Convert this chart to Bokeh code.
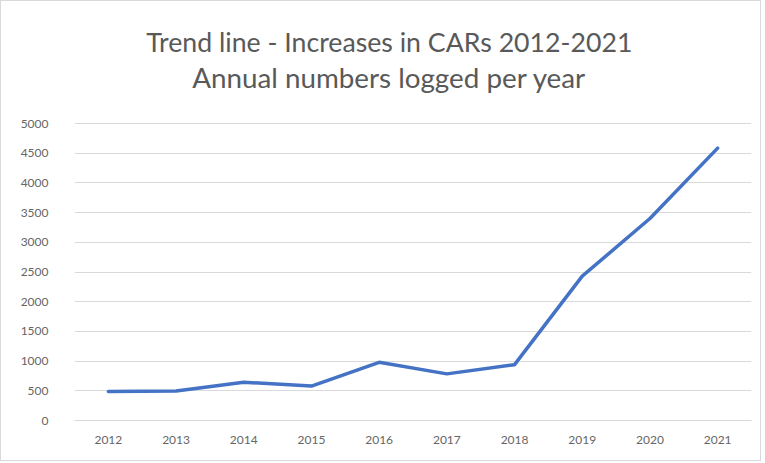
from bokeh.plotting import figure
from bokeh.models import Range1d, Label, FixedTicker, NumeralTickFormatter
from bokeh.embed import file_html
from bokeh.resources import INLINE

years = ["2012", "2013", "2014", "2015", "2016", "2017", "2018", "2019", "2020", "2021"]
cars_logged = [490, 495, 645, 580, 980, 785, 940, 2430, 3400, 4585]
y_ticks = [0, 500, 1000, 1500, 2000, 2500, 3000, 3500, 4000, 4500, 5000]
title_line1 = "Trend line - Increases in CARs 2012-2021"
title_line2 = "Annual numbers logged per year"

FONT = "Lato"
GREY = "#595959"
GRID = "#d9d9d9"

# layout (pixels)
W, H = 761, 461
LEFT, RIGHT_PAD, TOP_PAD, BOTTOM_PAD = 73, 11, 4, 42
AXIS_PX = 297            # pixel height of 0..5000 on the value axis
frame_h = H - TOP_PAD - BOTTOM_PAD
y_top = y_ticks[-1] * frame_h / AXIS_PX   # extra room above 5000 for the title
px = y_ticks[-1] / AXIS_PX                  # value units per pixel

p = figure(width=W, height=H, x_range=years, y_range=Range1d(0, y_top),
           output_backend="svg", toolbar_location=None, title=None,
           min_border_left=LEFT, min_border_right=RIGHT_PAD,
           min_border_top=TOP_PAD, min_border_bottom=BOTTOM_PAD)
p.styles = {"border": "1px solid #d9d9d9", "box-sizing": "border-box"}

p.line(x=years, y=cars_logged, line_color="#4472C4", line_width=3.5,
       line_cap="round", line_join="round")

# two-line chart title (positions given as pixel offsets above the axis baseline)
title_x = len(years) / 2 - 0.35
p.add_layout(Label(x=title_x, y=379 * px, text=title_line1,
                   text_align="center", text_baseline="alphabetic", text_font=FONT,
                   text_font_size="26.7px", text_color=GREY))
p.add_layout(Label(x=title_x, y=343 * px, text=title_line2,
                   text_align="center", text_baseline="alphabetic", text_font=FONT,
                   text_font_size="27.8px", text_color=GREY))

p.outline_line_color = None
p.xgrid.grid_line_color = None
p.ygrid.grid_line_color = GRID
p.ygrid.grid_line_width = 1
p.yaxis.ticker = FixedTicker(ticks=y_ticks)
p.yaxis.formatter = NumeralTickFormatter(format="0")

for ax in (p.xaxis[0], p.yaxis[0]):
    ax.major_tick_line_color = None
    ax.minor_tick_line_color = None
    ax.major_label_text_font = FONT
    ax.major_label_text_font_size = "12px"
    ax.major_label_text_color = "#666666"
p.yaxis.axis_line_color = None
p.yaxis.major_label_standoff = 20
p.xaxis.axis_line_color = GRID
p.xaxis.axis_line_width = 1
p.xaxis.major_label_standoff = 9

open("out.html", "w").write(file_html(p, INLINE))
